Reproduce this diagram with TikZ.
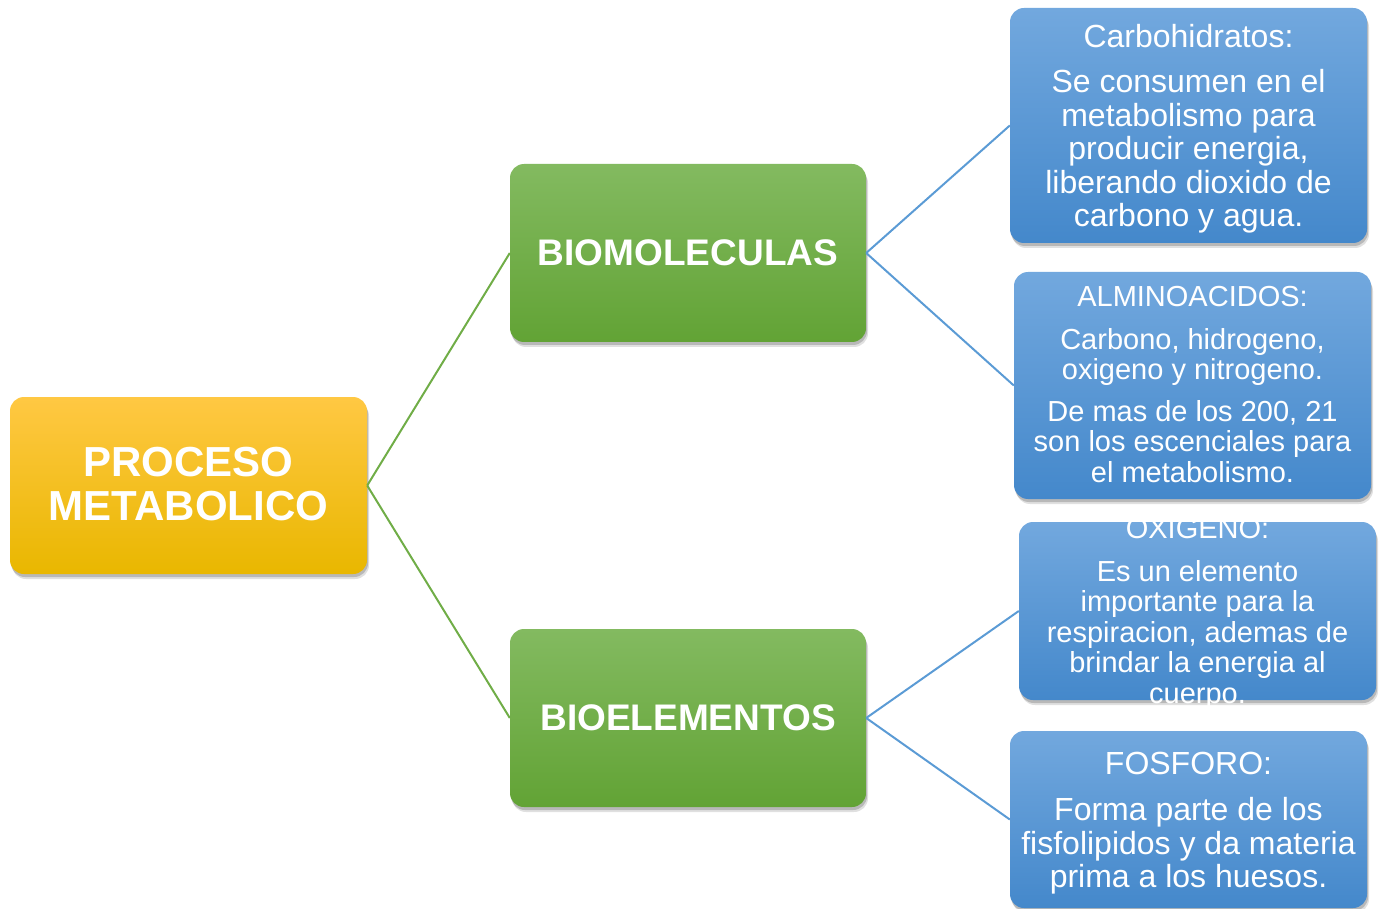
\documentclass[tikz,border=0pt]{standalone}
\usepackage{fontspec}
\setmainfont{Liberation Sans}
\usetikzlibrary{shadows}
\definecolor{orTop}{HTML}{FFC843}
\definecolor{orBot}{HTML}{E9B700}
\definecolor{grTop}{HTML}{83BA60}
\definecolor{grBot}{HTML}{62A335}
\definecolor{blTop}{HTML}{72A8DE}
\definecolor{blBot}{HTML}{4488CB}
\definecolor{grLine}{HTML}{70AD47}
\definecolor{blLine}{HTML}{5B9BD5}
\tikzset{
  boxbase/.style={rectangle, rounded corners=14pt, draw=none, inner sep=0pt,
    drop shadow={shadow xshift=2pt, shadow yshift=-5pt, opacity=0.12, fill=black},
    drop shadow={shadow xshift=1pt, shadow yshift=-3pt, opacity=0.18, fill=black}},
  orbox/.style={boxbase, top color=orTop, bottom color=orBot},
  grbox/.style={boxbase, top color=grTop, bottom color=grBot},
  blbox/.style={boxbase, top color=blTop, bottom color=blBot},
  bigtxt/.style={text=white, align=center, font=\fontsize{42}{44}\selectfont\bfseries},
  midtxt/.style={text=white, align=center, font=\fontsize{37}{40}\selectfont\bfseries},
  leaftxtA/.style={text=white, align=center, font=\fontsize{32}{33.5}\selectfont},
  leaftxtB/.style={text=white, align=center, font=\fontsize{29}{30.5}\selectfont},
  grlink/.style={draw=grLine, line width=2pt},
  bllink/.style={draw=blLine, line width=2pt}
}
\begin{document}
\begin{tikzpicture}[x=1pt,y=-1pt]
\useasboundingbox (0,0) rectangle (1382,909);
% boxes
\node[orbox, minimum width=357pt, minimum height=177pt] (pm) at (188.5,485.5) {};
\node[grbox, minimum width=356pt, minimum height=178pt] (bm) at (688,253) {};
\node[grbox, minimum width=356pt, minimum height=178pt] (be) at (688,718) {};
\node[blbox, minimum width=357pt, minimum height=235pt] (ca) at (1188.5,125.5) {};
\node[blbox, minimum width=357pt, minimum height=227pt] (am) at (1192.5,385.5) {};
\node[blbox, minimum width=357pt, minimum height=178pt] (ox) at (1197.5,611) {};
\node[blbox, minimum width=357pt, minimum height=177pt] (fo) at (1188.5,819.5) {};
% connectors
\draw[grlink] (pm.east) -- (bm.west);
\draw[grlink] (pm.east) -- (be.west);
\draw[bllink] (bm.east) -- (ca.west);
\draw[bllink] (bm.east) -- (am.west);
\draw[bllink] (be.east) -- (ox.west);
\draw[bllink] (be.east) -- (fo.west);
% texts
\node[bigtxt] (pmt) at ([yshift=1pt]pm.center) {PROCESO\\METABOLICO};
\node[midtxt] (bmt) at (bm.center) {BIOMOLECULAS};
\node[midtxt] (bet) at (be.center) {BIOELEMENTOS};
\node[leaftxtA] (cat) at ([yshift=-3pt]ca.center) {Carbohidratos:\\[12pt]Se consumen en el\\metabolismo para\\producir energia,\\liberando dioxido de\\carbono y agua.};
\node[leaftxtB] (amt) at ([yshift=1pt]am.center) {ALMINOACIDOS:\\[12pt]Carbono, hidrogeno,\\oxigeno y nitrogeno.\\[11pt]De mas de los 200, 21\\son los escenciales para\\el metabolismo.};
\node[leaftxtB] (oxt) at ([yshift=-3pt]ox.center) {OXIGENO:\\[12pt]Es un elemento\\importante para la\\respiracion, ademas de\\brindar la energia al\\cuerpo.};
\node[leaftxtA] (fot) at ([yshift=-4pt]fo.center) {FOSFORO:\\[12.5pt]Forma parte de los\\fisfolipidos y da materia\\prima a los huesos.};
\end{tikzpicture}
\end{document}
